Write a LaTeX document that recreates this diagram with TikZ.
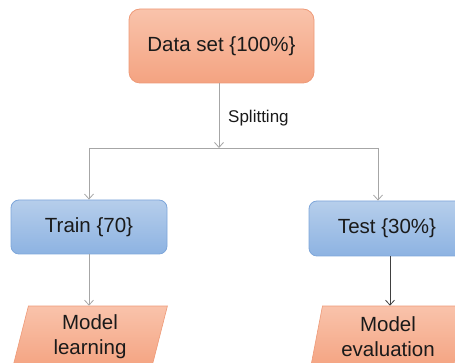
\documentclass[tikz,border=0pt]{standalone}
\usepackage{fontspec}
\setmainfont{Liberation Sans}
\usetikzlibrary{arrows.meta,shapes.geometric}
\definecolor{salT}{HTML}{F9C3AB}
\definecolor{salB}{HTML}{F4A381}
\definecolor{salD}{HTML}{EE9A78}
\definecolor{bluT}{HTML}{B6CEEB}
\definecolor{bluB}{HTML}{8DB3E2}
\definecolor{bluD}{HTML}{7EA6DA}
\definecolor{lineG}{HTML}{A6A6A6}
\definecolor{lineD}{HTML}{404040}
\definecolor{txt}{HTML}{1A1A1A}
\tikzset{
  salbox/.style={draw=salD, line width=0.8pt, rounded corners=11pt, top color=salT, bottom color=salB, text=txt, font=\fontsize{20.5}{25}\selectfont, inner sep=0pt, align=center},
  blubox/.style={draw=bluD, line width=0.8pt, rounded corners=8pt, top color=bluT, bottom color=bluB, text=txt, font=\fontsize{20.5}{25}\selectfont, inner sep=0pt, align=center},
  para/.style={trapezium, trapezium left angle=78, trapezium right angle=102, trapezium stretches=true, draw=salD, line width=0.6pt, top color=salT, bottom color=salB, text=txt, font=\fontsize{20.5}{25}\selectfont, inner sep=0pt, align=center},
  conn/.style={draw=lineG, line width=0.8pt, -{Straight Barb[length=5pt,width=9pt]}},
  conndark/.style={draw=lineD, line width=0.8pt, -{Straight Barb[length=5pt,width=9pt]}},
}
\begin{document}
\begin{tikzpicture}[x=1pt,y=-1pt]
\useasboundingbox (0,0) rectangle (455,363);
\node[salbox, minimum width=185pt, minimum height=74pt] (data) at (221.5,46) {Data set \{100\%\}};
\node[blubox, minimum width=156pt, minimum height=54pt] (train) at (89,227) {Train \{70\}};
\node[blubox, minimum width=156pt, minimum height=55pt] (test) at (387,228.5) {Test \{30\%\}};
\node[para, minimum width=155pt, minimum height=62pt] (learn) at (90,337) {Model\\learning};
\node[para, minimum width=155pt, minimum height=62pt] (eval) at (388,337) {Model\\evaluation};
\coordinate (split) at (219,148);
\coordinate (trainin) at (89,148);
\coordinate (testin) at (378,148);
\coordinate (testout) at ([xshift=3pt]test.south);
\node[anchor=base west, text=txt, font=\fontsize{17}{20}\selectfont, inner sep=0pt] (lbl) at (228,123) {Splitting};
\draw[conn] (data.south -| split) -- (split);
\draw[draw=lineG, line width=0.8pt] (trainin) -- (testin);
\draw[conn] (trainin) -- (train.north -| trainin);
\draw[conn] (testin) -- (test.north -| testin);
\draw[conn] (train.south) -- (learn.north -| train.south);
\draw[conndark] (testout) -- (eval.north -| testout);
\end{tikzpicture}
\end{document}
